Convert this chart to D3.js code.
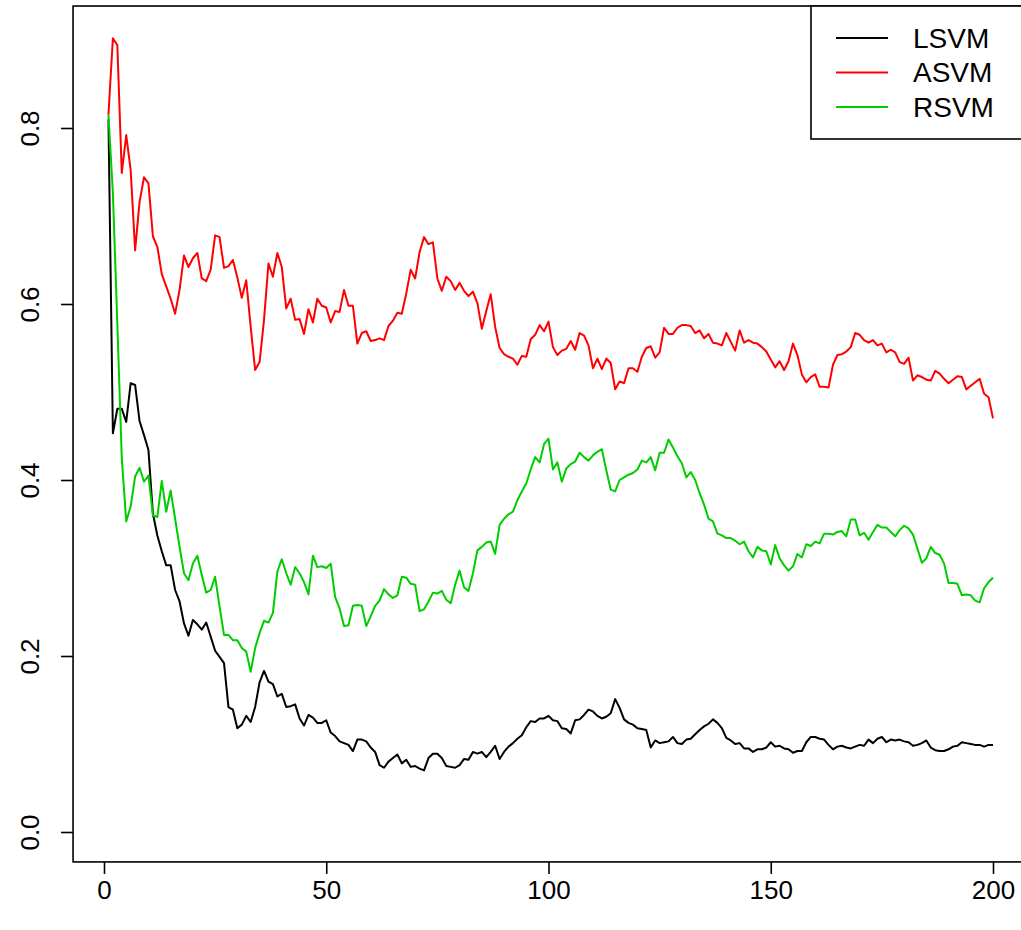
<!DOCTYPE html>
<html><head><meta charset="utf-8">
<script src="https://cdn.jsdelivr.net/npm/d3@7"></script>
<style>body{margin:0;background:#fff}svg{display:block}text{font-family:"Liberation Sans",Arial,sans-serif}</style>
</head><body><svg id="c" width="1021" height="930"></svg>
<script>
const seriesNames = ["LSVM", "ASVM", "RSVM"];
const seriesColors = ["#000000", "#ff0000", "#00cd00"];
const xTicks = [0, 50, 100, 150, 200];
const yTicks = [0.0, 0.2, 0.4, 0.6, 0.8];
const yTickLabels = ["0.0", "0.2", "0.4", "0.6", "0.8"];

const lsvm = [0.810,0.453,0.481,0.481,0.466,0.510,0.508,0.467,0.451,0.434,
0.362,0.337,0.319,0.303,0.303,0.275,0.262,0.237,0.223,0.241,
0.236,0.230,0.238,0.222,0.206,0.199,0.192,0.142,0.139,0.118,
0.122,0.132,0.125,0.142,0.170,0.183,0.171,0.168,0.154,0.157,
0.142,0.143,0.145,0.129,0.121,0.133,0.130,0.124,0.124,0.127,
0.113,0.109,0.103,0.101,0.099,0.092,0.105,0.105,0.103,0.096,
0.091,0.076,0.073,0.080,0.084,0.088,0.078,0.082,0.074,0.075,
0.072,0.070,0.084,0.089,0.089,0.084,0.075,0.074,0.073,0.076,
0.083,0.082,0.091,0.089,0.091,0.085,0.091,0.098,0.083,0.091,
0.097,0.101,0.106,0.110,0.119,0.126,0.125,0.129,0.129,0.132,
0.127,0.126,0.118,0.117,0.112,0.127,0.128,0.133,0.139,0.137,
0.132,0.129,0.131,0.135,0.151,0.141,0.128,0.124,0.122,0.118,
0.117,0.116,0.096,0.104,0.101,0.102,0.103,0.108,0.101,0.100,
0.105,0.106,0.111,0.116,0.120,0.123,0.128,0.124,0.118,0.107,
0.104,0.100,0.101,0.095,0.095,0.091,0.094,0.094,0.096,0.102,
0.097,0.098,0.095,0.094,0.090,0.092,0.092,0.102,0.108,0.108,
0.106,0.105,0.099,0.094,0.097,0.098,0.096,0.095,0.097,0.099,
0.098,0.105,0.101,0.106,0.108,0.102,0.105,0.104,0.105,0.103,
0.102,0.098,0.099,0.101,0.104,0.096,0.093,0.092,0.092,0.094,
0.097,0.098,0.102,0.101,0.100,0.099,0.099,0.097,0.099,0.099];

const asvm = [0.815,0.902,0.894,0.749,0.792,0.752,0.661,0.716,0.744,0.737,
0.677,0.665,0.634,0.620,0.606,0.589,0.616,0.655,0.642,0.652,
0.658,0.629,0.626,0.639,0.678,0.676,0.641,0.643,0.650,0.630,
0.607,0.627,0.574,0.525,0.534,0.582,0.646,0.631,0.658,0.642,
0.595,0.606,0.582,0.583,0.566,0.594,0.579,0.606,0.598,0.596,
0.579,0.592,0.591,0.616,0.598,0.598,0.555,0.567,0.569,0.558,
0.559,0.561,0.559,0.575,0.581,0.590,0.589,0.612,0.639,0.629,
0.659,0.676,0.668,0.670,0.629,0.615,0.631,0.626,0.616,0.624,
0.615,0.609,0.614,0.601,0.572,0.592,0.611,0.574,0.550,0.543,
0.540,0.538,0.531,0.541,0.540,0.560,0.565,0.576,0.569,0.580,
0.551,0.542,0.547,0.549,0.558,0.548,0.567,0.564,0.553,0.527,
0.538,0.526,0.538,0.533,0.503,0.512,0.510,0.527,0.527,0.523,
0.540,0.550,0.552,0.539,0.545,0.573,0.566,0.566,0.573,0.576,
0.576,0.575,0.567,0.570,0.561,0.566,0.556,0.555,0.553,0.567,
0.557,0.547,0.570,0.556,0.559,0.556,0.555,0.551,0.546,0.537,
0.528,0.535,0.525,0.535,0.555,0.542,0.520,0.511,0.517,0.520,
0.506,0.506,0.505,0.531,0.542,0.543,0.546,0.551,0.567,0.565,
0.559,0.556,0.559,0.553,0.555,0.545,0.548,0.545,0.534,0.532,
0.539,0.513,0.519,0.517,0.514,0.513,0.524,0.521,0.515,0.510,
0.514,0.518,0.517,0.503,0.507,0.511,0.515,0.498,0.494,0.470];

const rsvm = [0.815,0.726,0.577,0.425,0.353,0.370,0.404,0.414,0.398,0.405,
0.360,0.358,0.399,0.364,0.388,0.356,0.324,0.294,0.286,0.305,
0.314,0.292,0.272,0.275,0.290,0.256,0.224,0.224,0.218,0.218,
0.209,0.205,0.182,0.209,0.226,0.240,0.238,0.249,0.296,0.310,
0.294,0.281,0.301,0.294,0.284,0.270,0.314,0.301,0.302,0.300,
0.305,0.267,0.254,0.234,0.235,0.257,0.258,0.257,0.234,0.245,
0.257,0.263,0.276,0.270,0.266,0.269,0.290,0.289,0.282,0.281,
0.251,0.253,0.262,0.272,0.271,0.274,0.264,0.260,0.281,0.297,
0.278,0.274,0.294,0.320,0.324,0.329,0.330,0.316,0.349,0.356,
0.361,0.364,0.377,0.387,0.396,0.412,0.426,0.420,0.441,0.447,
0.412,0.420,0.398,0.413,0.418,0.421,0.431,0.426,0.422,0.428,
0.432,0.435,0.411,0.389,0.387,0.400,0.403,0.406,0.408,0.412,
0.422,0.420,0.426,0.411,0.431,0.431,0.446,0.437,0.427,0.419,
0.403,0.409,0.400,0.385,0.372,0.356,0.353,0.339,0.337,0.334,
0.334,0.331,0.327,0.330,0.319,0.312,0.324,0.320,0.319,0.304,
0.326,0.311,0.303,0.297,0.302,0.316,0.312,0.327,0.325,0.330,
0.328,0.339,0.339,0.338,0.341,0.342,0.336,0.355,0.355,0.337,
0.340,0.332,0.341,0.349,0.346,0.346,0.341,0.336,0.343,0.348,
0.345,0.338,0.322,0.306,0.311,0.324,0.317,0.315,0.305,0.283,
0.283,0.282,0.269,0.270,0.269,0.263,0.261,0.277,0.284,0.289];

const series = [lsvm, asvm, rsvm];

const svg = d3.select("#c");
const x = d3.scaleLinear().domain([0, 200]).range([104, 993]);
const y = d3.scaleLinear().domain([0, 0.8]).range([832, 128]);
const xlim = [-6.96, 207.96], ylim = [-0.034, 0.9386];
const L = x(xlim[0]), R = x(xlim[1]), T = y(ylim[1]), B = y(ylim[0]);

// data lines
svg.append("clipPath").attr("id", "pc").append("rect")
  .attr("x", L).attr("y", T).attr("width", R - L).attr("height", B - T);
const line = d3.line().x((d, i) => x(i + 1)).y(d => y(d));
const g = svg.append("g").attr("clip-path", "url(#pc)");
series.forEach((s, k) => {
  g.append("path").datum(s).attr("d", line).attr("fill", "none")
    .attr("stroke", seriesColors[k]).attr("stroke-width", 2).attr("stroke-linejoin", "round");
});

// box
svg.append("rect").attr("x", L).attr("y", T).attr("width", R - L).attr("height", B - T)
  .attr("fill", "none").attr("stroke", "#000").attr("stroke-width", 1.6);

// x axis
const xa = svg.append("g").attr("transform", `translate(0,${B})`)
  .call(d3.axisBottom(x).tickValues(xTicks).tickSize(12).tickPadding(7).tickFormat(d3.format("d")));
xa.select(".domain").remove();
xa.selectAll("line").attr("stroke-width", 1.6);
xa.selectAll("text").attr("font-size", 26).attr("fill", "#000");

// y axis
const ya = svg.append("g").attr("transform", `translate(${L},0)`)
  .call(d3.axisLeft(y).tickValues(yTicks).tickSize(12).tickFormat((d, i) => yTickLabels[i]));
ya.select(".domain").remove();
ya.selectAll("line").attr("stroke-width", 1.6);
ya.selectAll("text").attr("font-size", 26).attr("fill", "#000")
  .attr("x", null)
  .attr("text-anchor", "middle")
  .attr("transform", "translate(-43,0) rotate(-90)")
  .attr("dy", "0.35em");

// legend
const lg = svg.append("g");
lg.append("rect").attr("x", 811).attr("y", T).attr("width", R - 811).attr("height", 139 - T)
  .attr("fill", "#fff").attr("stroke", "#000").attr("stroke-width", 1.6);
seriesNames.forEach((n, k) => {
  const yy = 38 + k * 34.5;
  lg.append("line").attr("x1", 836).attr("x2", 888).attr("y1", yy).attr("y2", yy)
    .attr("stroke", seriesColors[k]).attr("stroke-width", 2);
  lg.append("text").attr("x", 913).attr("y", yy).attr("dy", "0.35em")
    .attr("font-size", 28).text(n);
});
</script></body></html>
